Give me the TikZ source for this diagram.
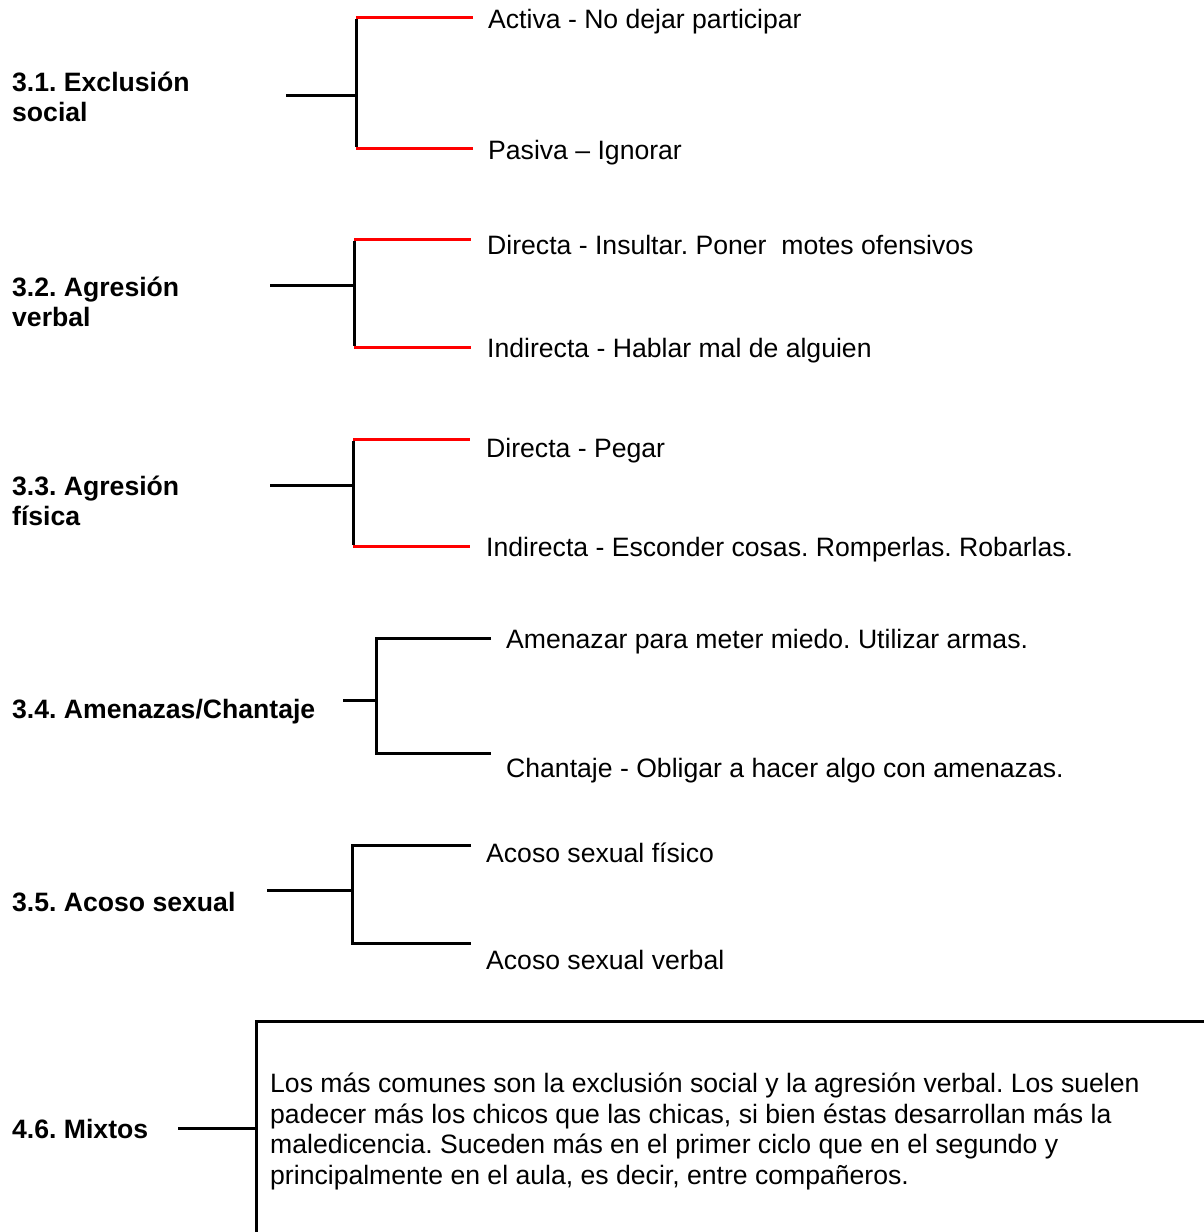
\documentclass[tikz,border=0pt]{standalone}
\usepackage{fontspec}
\setmainfont{Liberation Sans}
\frenchspacing
\begin{document}
\begin{tikzpicture}[x=1pt,y=-1pt,
  lbl/.style={anchor=base west, inner sep=0pt, font=\fontsize{26.6}{30}\selectfont\bfseries\frenchspacing, align=left},
  item/.style={anchor=base west, inner sep=0pt, font=\fontsize{26.6}{30.5}\selectfont\frenchspacing, align=left},
  blk/.style={line width=3pt, black, line join=miter},
  redl/.style={line width=3pt, red},
]
\useasboundingbox (0,0) rectangle (1204,1232);
\clip (0,0) rectangle (1204,1232);

% ---------- 3.1 ----------
\node[lbl] (l1) at (12,121) {3.1. Exclusión\\social};
\node[item] (a1) at (488,28) {Activa - No dejar participar};
\node[item] (b1) at (488,159) {Pasiva – Ignorar};
\coordinate (s1) at (286,95);
\coordinate (j1) at (356,95);
\coordinate (t1) at (356,17);
\coordinate (u1) at (356,148);
\coordinate (te1) at (473,17);
\coordinate (ue1) at (473,148);
\draw[redl] (t1) -- (te1);
\draw[redl] (u1) -- (ue1);
\draw[blk] (s1) -- (j1);
\draw[blk] ([yshift=-1.5pt]t1) -- ([yshift=1.5pt]u1);

% ---------- 3.2 ----------
\node[lbl] (l2) at (12,326) {3.2. Agresión\\verbal};
\node[item] (a2) at (487,254) {Directa - Insultar. Poner~ motes ofensivos};
\node[item] (b2) at (487,357) {Indirecta - Hablar mal de alguien};
\coordinate (s2) at (270,285);
\coordinate (j2) at (354,285);
\coordinate (t2) at (354,239);
\coordinate (u2) at (354,347);
\coordinate (te2) at (471,239);
\coordinate (ue2) at (471,347);
\draw[redl] (t2) -- (te2);
\draw[redl] (u2) -- (ue2);
\draw[blk] (s2) -- (j2);
\draw[blk] ([yshift=-1.5pt]t2) -- ([yshift=1.5pt]u2);

% ---------- 3.3 ----------
\node[lbl] (l3) at (12,525) {3.3. Agresión\\física};
\node[item] (a3) at (486,457) {Directa - Pegar};
\node[item] (b3) at (486,556) {Indirecta - Esconder cosas. Romperlas. Robarlas.};
\coordinate (s3) at (270,485);
\coordinate (j3) at (353,485);
\coordinate (t3) at (353,439);
\coordinate (u3) at (353,546);
\coordinate (te3) at (470,439);
\coordinate (ue3) at (470,546);
\draw[redl] (t3) -- (te3);
\draw[redl] (u3) -- (ue3);
\draw[blk] (s3) -- (j3);
\draw[blk] ([yshift=-1.5pt]t3) -- ([yshift=1.5pt]u3);

% ---------- 3.4 ----------
\node[lbl] (l4) at (12,718) {3.4. Amenazas/Chantaje};
\node[item] (a4) at (506,648) {Amenazar para meter miedo. Utilizar armas.};
\node[item] (b4) at (506,777) {Chantaje - Obligar a hacer algo con amenazas.};
\coordinate (s4) at (343,700);
\coordinate (j4) at (376,700);
\coordinate (t4) at (376,638);
\coordinate (u4) at (376,753);
\coordinate (te4) at (491,638);
\coordinate (ue4) at (491,753);
\draw[blk] (s4) -- (j4);
\draw[blk] (te4) -- (t4) -- (u4) -- (ue4);

% ---------- 3.5 ----------
\node[lbl] (l5) at (12,911) {3.5. Acoso sexual};
\node[item] (a5) at (486,862) {Acoso sexual físico};
\node[item] (b5) at (486,969) {Acoso sexual verbal};
\coordinate (s5) at (267,890);
\coordinate (j5) at (352,890);
\coordinate (t5) at (352,845);
\coordinate (u5) at (352,943);
\coordinate (te5) at (471,845);
\coordinate (ue5) at (471,943);
\draw[blk] (s5) -- (j5);
\draw[blk] (te5) -- (t5) -- (u5) -- (ue5);

% ---------- 4.6 ----------
\node[lbl] (l6) at (12,1138) {4.6. Mixtos};
\node[draw, line width=3pt, inner sep=0pt, outer sep=0pt, minimum width=980pt, minimum height=214pt, anchor=north west] (box) at (256,1021) {};
\node[item] (txt) at (270,1184) {Los más comunes son la exclusión social y la agresión verbal. Los suelen\\padecer más los chicos que las chicas, si bien éstas desarrollan más la\\maledicencia. Suceden más en el primer ciclo que en el segundo y\\principalmente en el aula, es decir, entre compañeros.};
\coordinate (s6) at (178,1128);
\draw[blk] (s6) -- (box.west);
\end{tikzpicture}
\end{document}
